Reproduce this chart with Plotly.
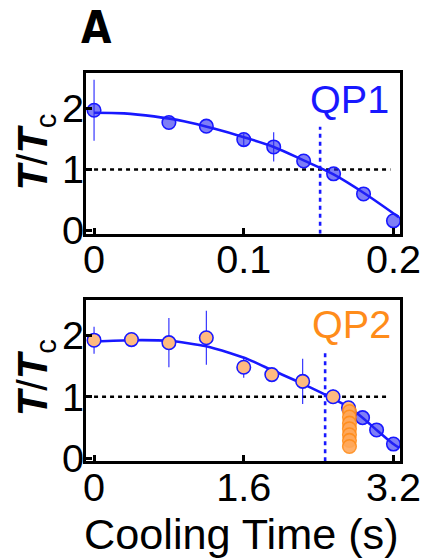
import plotly.graph_objects as go

# ---- data ----
qp1_t = [0, 0.05, 0.075, 0.1, 0.12, 0.14, 0.16, 0.18, 0.2]
qp1_T = [1.97, 1.77, 1.71, 1.49, 1.37, 1.14, 0.93, 0.60, 0.16]
qp1_err = [0.5, 0, 0, 0.1, 0.24, 0, 0, 0, 0]

fit1_t = [0, 0.02, 0.04, 0.06, 0.08, 0.10, 0.12, 0.14, 0.16, 0.18, 0.2035]
fit1_T = [1.93, 1.92, 1.87, 1.79, 1.67, 1.53, 1.37, 1.15, 0.92, 0.62, 0.22]

qp2_t = [0, 0.4, 0.8, 1.2, 1.6, 1.9, 2.23, 2.555, 2.72]
qp2_T = [1.92, 1.93, 1.88, 1.96, 1.48, 1.36, 1.25, 1.0, 0.82]
qp2_err = [0.22, 0, 0.4, 0.44, 0.17, 0, 0.37, 0.12, 0]

qp2_col_t = [2.73, 2.73, 2.73, 2.73, 2.73, 2.73, 2.73]
qp2_col_T = [0.76, 0.67, 0.57, 0.48, 0.38, 0.29, 0.19]

qp2_blue_t = [2.87, 3.02, 3.2]
qp2_blue_T = [0.66, 0.46, 0.23]

fit2_t = [0, 0.4, 0.8, 1.2, 1.45, 1.66, 1.905, 2.23, 2.555, 2.72, 2.87, 3.02, 3.2, 3.26]
fit2_T = [1.90, 1.92, 1.91, 1.82, 1.71, 1.60, 1.43, 1.21, 0.97, 0.83, 0.66, 0.46, 0.23, 0.17]

tc_line = 1.0
qp1_cross = 0.151
qp2_cross = 2.47

top_ticks = [0, 0.1, 0.2]
top_ticklabels = ["0", "0.1", "0.2"]
bot_ticks = [0, 1.6, 3.2]
bot_ticklabels = ["0", "1.6", "3.2"]
y_ticks = [0, 1, 2]

# ---- styles ----
BLUE = "#1818ff"
BLUE_FILL = "rgba(40,40,240,0.6)"
ORANGE = "#ff8c1a"
ORANGE_FILL = "#ffa85a"
ORANGE_LIGHT = "#ffbb80"
FONT = "Liberation Sans, Arial, sans-serif"

# the page is photographed slightly reduced; work in a slightly larger canvas
S = 0.96
REF_W, REF_H = 428, 559
W, H = round(REF_W / S), round(REF_H / S)
k = 1 / S  # size multiplier


def px(x):
    return x / REF_W


def py(y):
    return 1 - y / REF_H


MS = 13 * k
LW = 2.5 * k
DASH = "%dpx,%dpx" % (4 * k, 4 * k)

fig = go.Figure()

# top panel
fig.add_trace(go.Scatter(x=[0, 0.198], y=[tc_line, tc_line], mode="lines",
                         line=dict(color="black", width=LW, dash=DASH),
                         xaxis="x", yaxis="y"))
fig.add_trace(go.Scatter(x=[qp1_cross, qp1_cross], y=[-0.05, 1.70], mode="lines",
                         line=dict(color=BLUE, width=LW, dash=DASH),
                         xaxis="x", yaxis="y"))
fig.add_trace(go.Scatter(x=fit1_t, y=fit1_T, mode="lines", line_shape="spline",
                         line=dict(color=BLUE, width=LW), xaxis="x", yaxis="y"))
fig.add_trace(go.Scatter(x=qp1_t, y=qp1_T, mode="markers",
                         marker=dict(size=MS, color=BLUE_FILL, line=dict(color=BLUE, width=1.5 * k)),
                         error_y=dict(type="data", array=qp1_err, symmetric=True,
                                      color=BLUE, thickness=1 * k, width=0),
                         xaxis="x", yaxis="y"))

# bottom panel
fig.add_trace(go.Scatter(x=[0, 3.15], y=[tc_line, tc_line], mode="lines",
                         line=dict(color="black", width=LW, dash=DASH),
                         xaxis="x2", yaxis="y2"))
fig.add_trace(go.Scatter(x=[qp2_cross, qp2_cross], y=[-0.05, 1.73], mode="lines",
                         line=dict(color=BLUE, width=LW, dash=DASH),
                         xaxis="x2", yaxis="y2"))
fig.add_trace(go.Scatter(x=fit2_t, y=fit2_T, mode="lines", line_shape="spline",
                         line=dict(color=BLUE, width=LW, smoothing=0.6), xaxis="x2", yaxis="y2"))
fig.add_trace(go.Scatter(x=qp2_blue_t, y=qp2_blue_T, mode="markers",
                         marker=dict(size=MS, color=BLUE_FILL, line=dict(color=BLUE, width=1.5 * k)),
                         xaxis="x2", yaxis="y2"))
fig.add_trace(go.Scatter(x=qp2_t, y=qp2_T, mode="markers",
                         marker=dict(size=MS, color=ORANGE_LIGHT, line=dict(color=BLUE, width=1.5 * k)),
                         error_y=dict(type="data", array=qp2_err, symmetric=True,
                                      color=BLUE, thickness=1 * k, width=0),
                         xaxis="x2", yaxis="y2"))
fig.add_trace(go.Scatter(x=qp2_col_t, y=qp2_col_T, mode="markers",
                         marker=dict(size=MS, color=ORANGE_FILL, opacity=0.9,
                                     line=dict(color=ORANGE, width=1.5 * k)),
                         xaxis="x2", yaxis="y2"))

xdom = [px(84), px(403)]
top_dom = [py(232), py(72.5)]
bot_dom = [py(458), py(297.5)]

axis_common = dict(showline=True, linecolor="black", linewidth=LW, mirror=True,
                   ticks="inside", ticklen=6 * k, tickwidth=LW, tickcolor="black",
                   showgrid=False, zeroline=False,
                   tickfont=dict(family=FONT, size=38 * k, color="black"))

fig.update_layout(
    width=W, height=H,
    margin=dict(l=0, r=0, t=0, b=0),
    paper_bgcolor="white", plot_bgcolor="white",
    showlegend=False,
    xaxis=dict(domain=xdom, anchor="y", range=[-0.0055, 0.2046],
               tickvals=top_ticks, ticktext=top_ticklabels, ticklabelstandoff=-11,
               **axis_common),
    yaxis=dict(domain=top_dom, anchor="x", range=[-0.05, 2.58],
               tickvals=y_ticks, ticklabelstandoff=-9, **axis_common),
    xaxis2=dict(domain=xdom, anchor="y2", range=[-0.088, 3.274],
                tickvals=bot_ticks, ticktext=bot_ticklabels, ticklabelstandoff=-11,
                **axis_common),
    yaxis2=dict(domain=bot_dom, anchor="x2", range=[-0.05, 2.58],
                tickvals=y_ticks, ticklabelstandoff=-9, **axis_common),
)

ytitle = "<b><i>T</i></b>/<b><i>T</i></b><sub>c</sub>"
fig.add_annotation(text=ytitle, x=px(33), y=py(151), xref="paper", yref="paper",
                   xanchor="center", yanchor="middle",
                   textangle=-90, showarrow=False, font=dict(family=FONT, size=40 * k, color="black"))
fig.add_annotation(text=ytitle, x=px(33), y=py(375), xref="paper", yref="paper",
                   xanchor="center", yanchor="middle",
                   textangle=-90, showarrow=False, font=dict(family=FONT, size=40 * k, color="black"))
fig.add_annotation(text="QP1", x=px(394), y=py(98), xref="paper", yref="paper",
                   xanchor="right", yanchor="middle", showarrow=False,
                   font=dict(family=FONT, size=38 * k, color=BLUE))
fig.add_annotation(text="QP2", x=px(396), y=py(322), xref="paper", yref="paper",
                   xanchor="right", yanchor="middle", showarrow=False,
                   font=dict(family=FONT, size=38 * k, color=ORANGE))
fig.add_annotation(text="Cooling Time (s)", x=px(242), y=py(530), xref="paper", yref="paper",
                   xanchor="center", yanchor="middle", showarrow=False,
                   font=dict(family=FONT, size=41.5 * k, color="black"))
fig.add_annotation(text="<b>A</b>", x=px(95), y=py(27), xref="paper", yref="paper",
                   xanchor="center", yanchor="middle", showarrow=False,
                   font=dict(family="Liberation Sans Narrow, DejaVu Sans Condensed, sans-serif",
                             size=42 * k, color="black"))

# place the figure at the page's top-left corner (no default body margin)
fig.write_html("out.html", config={"displayModeBar": False},
               post_script="document.body.style.margin='0';document.body.style.overflow='hidden';")
